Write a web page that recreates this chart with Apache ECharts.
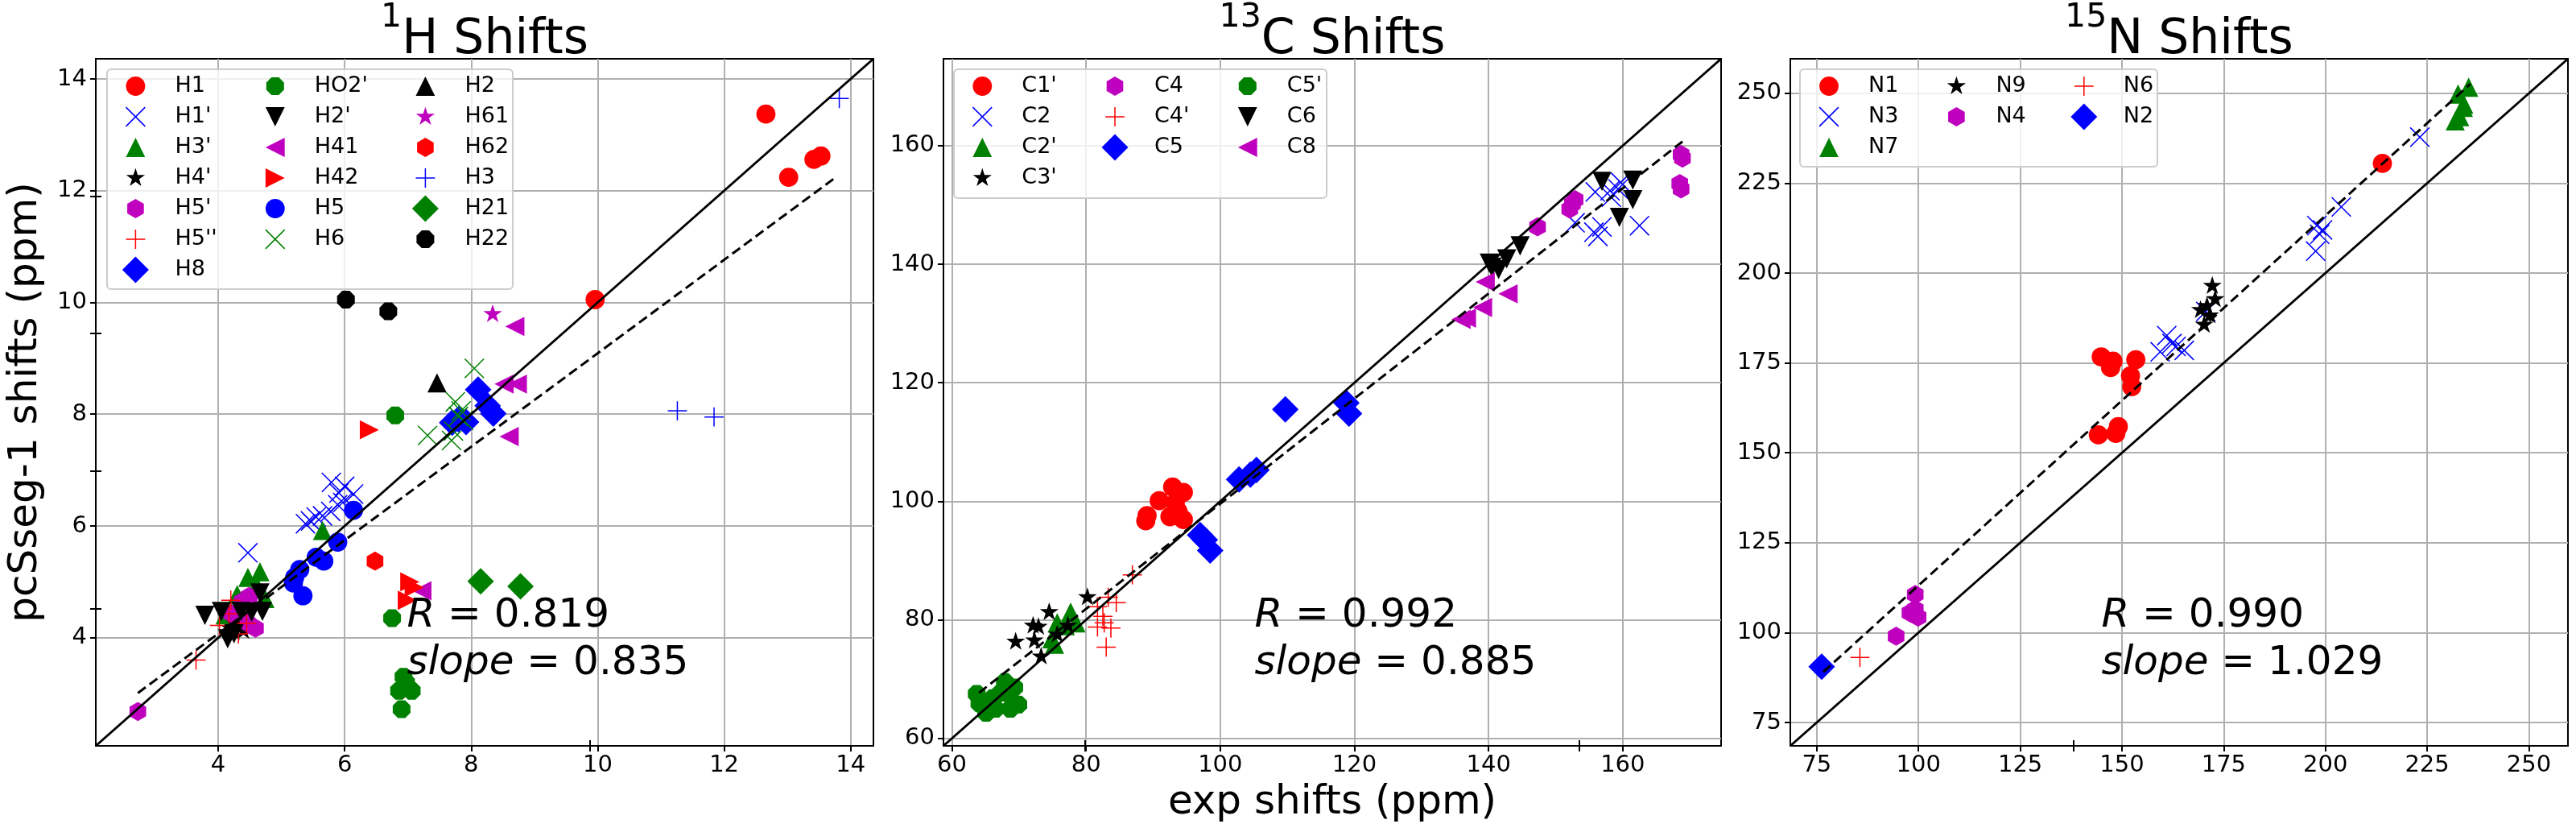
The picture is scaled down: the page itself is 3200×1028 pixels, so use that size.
<!DOCTYPE html>
<html><head><meta charset="utf-8">
<script src="https://cdn.jsdelivr.net/npm/echarts@6/dist/echarts.min.js"></script>
<style>html,body{margin:0;padding:0;background:#fff}#c{width:3200px;height:1028px}</style>
</head><body><div id="c"></div>
<script>
// ---------------- DATA ----------------
// 1H panel: [exp, pcSseg-1]
const H1   = [[12.66,13.37],[13.02,12.24],[13.42,12.56],[13.53,12.62],[9.96,10.05]];
const H1p  = [[5.79,6.78],[6.00,6.71],[6.14,6.57],[5.91,6.59],[5.38,6.04],[5.46,6.09],[5.55,6.16],[5.65,6.18],[5.78,6.26],[5.89,6.38],[5.97,6.42],[4.47,5.52]];
const H3p  = [[5.65,5.92],[4.47,5.08],[4.66,5.18],[4.30,4.77],[4.61,4.94],[4.11,4.41],[4.74,4.70]];
const H4p  = [[4.19,4.17],[4.32,4.19],[4.40,4.12],[4.25,4.10],[4.28,4.25]];
const H5p  = [[2.73,2.68],[4.21,4.43],[4.47,4.26],[4.59,4.17],[4.49,4.74],[4.38,4.65]];
const H5pp = [[3.65,3.60],[4.17,4.43],[4.02,4.22],[4.45,4.26],[4.32,4.07],[4.20,4.67]];
const H8   = [[8.11,8.44],[8.35,8.01],[7.80,7.91],[7.92,7.86],[8.26,8.15],[7.70,7.85]];
const HO2p = [[6.80,7.98],[6.75,4.35],[6.93,3.30],[6.86,3.05],[7.06,3.05],[6.90,2.72],[6.97,3.20]];
const H2p  = [[3.79,4.40],[4.05,4.47],[4.15,3.98],[4.36,4.47],[4.66,4.80],[4.70,4.47],[4.53,4.46],[4.25,4.07]];
const H41  = [[8.69,9.57],[8.73,8.54],[8.52,8.54],[8.60,7.60],[7.22,4.84]];
const H42  = [[6.39,7.72],[7.03,5.00],[7.10,4.90],[6.99,4.67]];
const H5   = [[6.14,6.28],[5.89,5.71],[5.67,5.37],[5.55,5.44],[5.29,5.22],[5.21,5.08],[5.19,4.98],[5.34,4.75]];
const H6   = [[8.05,8.82],[7.75,8.22],[7.84,8.06],[7.31,7.62],[7.69,7.53],[7.80,7.96],[7.88,7.89],[7.72,7.70]];
const H2   = [[7.46,8.56]];
const H61  = [[8.34,9.79]];
const H62  = [[6.48,5.37]];
const H3   = [[13.82,13.65],[11.26,8.06],[11.84,7.95]];
const H21  = [[8.15,5.01],[8.78,4.92]];
const H22  = [[6.02,10.05],[6.69,9.84]];

// 13C panel
const C1p = [[92.9,102.4],[94.5,101.5],[90.9,100.1],[93.3,99.7],[93.7,98.3],[89.1,97.6],[88.9,96.7],[94.5,96.9],[92.5,97.4]];
const C2  = [[155.9,152.2],[158.3,151.3],[159.3,152.7],[155.7,145.4],[156.9,146.3],[156.3,144.7],[162.5,146.5],[152.9,147.0],[158.1,152.4],[159.7,153.8]];
const C2p = [[77.7,81.3],[75.7,79.5],[74.9,76.8],[76.9,79.0],[75.3,75.9],[78.5,79.5]];
const C3p = [[80.2,83.8],[74.5,81.3],[72.1,79.0],[72.9,78.8],[69.5,76.3],[72.3,76.5],[73.3,73.8],[77.3,79.0],[75.7,77.5]];
const C4  = [[168.7,158.5],[168.5,153.6],[168.7,152.7],[168.9,157.9],[152.5,150.2],[152.9,150.9],[152.1,149.3],[147.3,146.3]];
const C4p = [[86.9,87.6],[83.3,83.8],[84.5,82.9],[81.7,82.2],[82.5,80.6],[82.7,79.5],[81.7,78.8],[83.7,78.6],[83.0,75.4]];
const C5  = [[97.7,93.5],[98.5,91.7],[97.0,94.3],[102.8,103.7],[105.4,105.3],[104.5,104.5],[109.7,115.5],[118.8,116.6],[119.2,114.8]];
const C5p = [[64.1,65.9],[65.1,64.3],[66.5,65.0],[67.9,69.5],[68.3,67.7],[69.3,68.6],[69.9,65.7],[63.7,67.5],[66.1,66.8],[67.3,67.7],[68.7,65.0]];
const C6  = [[156.9,154.0],[161.5,154.2],[161.5,150.9],[159.5,147.9],[144.7,143.1],[142.7,140.9],[140.5,139.5],[141.5,139.1],[140.1,140.2]];
const C8  = [[139.5,137.0],[142.9,135.0],[139.1,132.7],[136.7,130.9],[135.9,130.7]];

// 15N panel
const N1 = [[144.9,176.7],[147.8,175.5],[147.2,173.7],[153.4,175.9],[152.1,171.4],[152.4,168.4],[144.2,155.0],[148.5,155.4],[149.1,157.3],[214.0,230.5]];
const N3 = [[161.0,182.6],[163.3,179.6],[159.4,178.1],[165.3,178.5],[162.3,180.4],[170.6,189.3],[223.2,237.8],[203.9,218.4],[197.9,213.2],[198.6,210.8],[197.6,206.1],[199.3,212.0]];
const N7 = [[235.2,251.7],[232.6,249.8],[233.9,246.1],[231.9,242.3],[233.0,243.5],[234.0,247.0]];
const N9 = [[172.2,196.4],[172.9,192.7],[169.3,189.7],[170.9,190.8],[171.6,188.2],[170.2,185.6]];
const N4 = [[99.2,110.6],[99.2,106.5],[99.9,104.3],[94.5,99.0],[97.9,105.5]];
const N6 = [[85.6,93.1]];
const N2 = [[76.2,90.5]];

// axis limits, ticks, regression lines, stats
const hLim = [2.065, 14.36];
const cLim = [58.74, 174.66];
const nLim = [68.5, 259.6];
const hTicks = [4, 6, 8, 10, 12, 14];
const cTicks = [60, 80, 100, 120, 140, 160];
const nTicks = [75, 100, 125, 150, 175, 200, 225, 250];
const frameTicks = [0.2, 0.4, 0.6, 0.8];   // ticks of the shared background axes
const hFit = [[2.73, 3.01], [13.73, 12.21]];
const cFit = [[64.05, 67.7], [168.9, 160.7]];
const nFit = [[76.6, 89.05], [235.6, 252.6]];
const titles = [['1', 'H Shifts'], ['13', 'C Shifts'], ['15', 'N Shifts']];
const statR = ['0.819', '0.992', '0.990'];
const statSlope = ['0.835', '0.885', '1.029'];

// ---------------- STYLE ----------------
const FONT = 'DejaVu Sans';
const RED = '#ff0000', BLUE = '#0000ff', GREEN = '#008000', BLACK = '#000000', MAG = '#bf00bf';
const PAD = 'path://M0 0M100 100';
function poly(pts) { return pts.map((p, i) => (i ? 'L' : 'M') + p[0].toFixed(2) + ' ' + p[1].toFixed(2)).join('') + 'Z'; }
function regular(n, R, startDeg) {
  const pts = [];
  for (let k = 0; k < n; k++) { const a = (startDeg + 360 * k / n) * Math.PI / 180; pts.push([50 + R * Math.cos(a), 50 + R * Math.sin(a)]); }
  return poly(pts);
}
function star(R, r) {
  const pts = [];
  for (let k = 0; k < 10; k++) { const a = (-90 + 36 * k) * Math.PI / 180; const rr = k % 2 ? r : R; pts.push([50 + rr * Math.cos(a), 50 + rr * Math.sin(a)]); }
  return poly(pts);
}
const d = 1.6;
const SYM = {
  'o': PAD + 'M85 50A35 35 0 1 1 15 50A35 35 0 1 1 85 50Z',
  '^': PAD + 'M50 15L85 85L15 85Z',
  'v': PAD + 'M15 15L85 15L50 85Z',
  '<': PAD + 'M15 50L85 15L85 85Z',
  '>': PAD + 'M85 50L15 15L15 85Z',
  'D': PAD + 'M50 1.5L98.5 50L50 98.5L1.5 50Z',
  'h': PAD + regular(6, 35, -90),
  '8': PAD + regular(8, 35, 22.5),
  '*': PAD + star(36, 13.8),
  '+': PAD + 'M47.8 15L52.2 15L52.2 47.8L85 47.8L85 52.2L52.2 52.2L52.2 85L47.8 85L47.8 52.2L15 52.2L15 47.8L47.8 47.8Z',
  'x': PAD + poly([[15 + d, 15 - d], [85 + d, 85 - d], [85 - d, 85 + d], [15 - d, 15 + d]]) +
       poly([[85 + d, 15 + d], [15 + d, 85 + d], [15 - d, 85 - d], [85 - d, 15 - d]])
};

const SPEC = [
  [
    ['H1', H1, 'o', RED], ["H1'", H1p, 'x', BLUE], ["H3'", H3p, '^', GREEN], ["H4'", H4p, '*', BLACK],
    ["H5'", H5p, 'h', MAG], ["H5''", H5pp, '+', RED], ['H8', H8, 'D', BLUE], ["HO2'", HO2p, '8', GREEN],
    ["H2'", H2p, 'v', BLACK], ['H41', H41, '<', MAG], ['H42', H42, '>', RED], ['H5', H5, 'o', BLUE],
    ['H6', H6, 'x', GREEN], ['H2', H2, '^', BLACK], ['H61', H61, '*', MAG], ['H62', H62, 'h', RED],
    ['H3', H3, '+', BLUE], ['H21', H21, 'D', GREEN], ['H22', H22, '8', BLACK]
  ],
  [
    ["C1'", C1p, 'o', RED], ['C2', C2, 'x', BLUE], ["C2'", C2p, '^', GREEN], ["C3'", C3p, '*', BLACK],
    ['C4', C4, 'h', MAG], ["C4'", C4p, '+', RED], ['C5', C5, 'D', BLUE], ["C5'", C5p, '8', GREEN],
    ['C6', C6, 'v', BLACK], ['C8', C8, '<', MAG]
  ],
  [
    ['N1', N1, 'o', RED], ['N3', N3, 'x', BLUE], ['N7', N7, '^', GREEN], ['N9', N9, '*', BLACK],
    ['N4', N4, 'h', MAG], ['N6', N6, '+', RED], ['N2', N2, 'D', BLUE]
  ]
];
const LIMS = [hLim, cLim, nLim];
const TICKS = [hTicks, cTicks, nTicks];
const FITS = [hFit, cFit, nFit];
const COLCOUNTS = [[7, 6, 6], [4, 3, 3], [3, 2, 2]];
const COLCENTERS = [[168.4, 341.8, 528.4], [1220.3, 1385, 1549.8], [2272, 2430.4, 2588.8]];
const LEGBOX = [[133, 86, 504, 273], [1185, 86, 463, 160], [2236, 86, 444, 121]];

const GL = [119, 1172, 2224], GT = 73, GW = 966, GH = 853;

const grids = [], xAxes = [], yAxes = [], series = [], legends = [], graphics = [];
for (let p = 0; p < 3; p++) {
  grids.push({ left: GL[p], top: GT, width: GW, height: GH, show: true, borderColor: '#000', borderWidth: 2, backgroundColor: 'transparent', z: 0 });
  const axisCommon = (ticks) => ({
    type: 'value', gridIndex: p, min: LIMS[p][0], max: LIMS[p][1],
    axisLine: { show: true, onZero: false, lineStyle: { color: '#000', width: 2 } },
    axisTick: { show: true, inside: false, length: 7, lineStyle: { color: '#000', width: 2 }, customValues: ticks },
    axisLabel: { show: true, customValues: ticks, fontSize: 29, fontFamily: FONT, color: '#000', margin: 10 },
    splitLine: { show: true, lineStyle: { color: '#b0b0b0', width: 2 } }
  });
  const xa = axisCommon(TICKS[p]);
  if (p === 1) {
    Object.assign(xa, { name: 'exp shifts (ppm)', nameLocation: 'middle', nameGap: 46, nameTextStyle: { fontSize: 50, fontFamily: FONT, color: '#000' } });
  }
  const ya = axisCommon(TICKS[p]);
  ya.axisLabel.margin = 11;
  if (p === 0) {
    Object.assign(ya, { name: 'pcSseg-1 shifts (ppm)', nameLocation: 'middle', nameGap: 62, nameTextStyle: { fontSize: 50, fontFamily: FONT, color: '#000' } });
  }
  xAxes.push(xa); yAxes.push(ya);

  SPEC[p].forEach(([name, data, sym, color]) => {
    series.push({
      type: 'scatter', name, xAxisIndex: p, yAxisIndex: p, data,
      symbol: SYM[sym], symbolSize: 34,
      itemStyle: { color, opacity: 1, borderWidth: 0 },
      emphasis: { disabled: true }, z: 2
    });
  });
  series.push({
    type: 'line', xAxisIndex: p, yAxisIndex: p, data: [[LIMS[p][0], LIMS[p][0]], [LIMS[p][1], LIMS[p][1]]],
    symbol: 'none', lineStyle: { color: '#000', width: 3 }, silent: true, z: 5
  });
  series.push({
    type: 'line', xAxisIndex: p, yAxisIndex: p, data: FITS[p],
    symbol: 'none', lineStyle: { color: '#000', width: 3, type: [12, 6] }, silent: true, z: 5
  });

  // legend columns
  let idx = 0;
  COLCOUNTS[p].forEach((cnt, ci) => {
    const items = SPEC[p].slice(idx, idx + cnt).map(s => ({ name: s[0], icon: SYM[s[2]] }));
    idx += cnt;
    legends.push({
      data: items, orient: 'vertical', left: COLCENTERS[p][ci] - 17, top: 90, padding: 0,
      itemWidth: 88, itemHeight: 34, itemGap: 4, symbolKeepAspect: true, selectedMode: false,
      textStyle: { fontSize: 27, fontFamily: FONT, color: '#000', lineHeight: 27 }, z: 6
    });
  });
  const b = LEGBOX[p];
  graphics.push({ type: 'rect', z: 5, shape: { x: b[0], y: b[1], width: b[2], height: b[3], r: 5 },
    style: { fill: 'rgba(255,255,255,0.8)', stroke: '#cccccc', lineWidth: 2 } });

  // title
  graphics.push({ type: 'text', z: 5, x: GL[p] + GW / 2, y: 2,
    style: { text: '{s|' + titles[p][0] + '}{m|' + titles[p][1] + '}', textAlign: 'center', textVerticalAlign: 'top',
      rich: { s: { fontSize: 41, fontFamily: FONT, fill: '#000', lineHeight: 41, verticalAlign: 'top' },
              m: { fontSize: 60, fontFamily: FONT, fill: '#000', lineHeight: 78, verticalAlign: 'bottom' } } } });
  // stats text
  const tx = GL[p] + 0.4 * GW;
  graphics.push({ type: 'text', z: 5, x: tx, y: 780 - 0.297 * 50,
    style: { text: '{i|R} = ' + statR[p], fontSize: 50, fontFamily: FONT, fill: '#000', textVerticalAlign: 'middle',
      rich: { i: { fontSize: 50, fontFamily: FONT, fontStyle: 'italic', fill: '#000' } } } });
  graphics.push({ type: 'text', z: 5, x: tx, y: 839 - 0.297 * 50,
    style: { text: '{i|slope} = ' + statSlope[p], fontSize: 50, fontFamily: FONT, fill: '#000', textVerticalAlign: 'middle',
      rich: { i: { fontSize: 50, fontFamily: FONT, fontStyle: 'italic', fill: '#000' } } } });
}

// shared background axes spanning all three panels (only its ticks are visible)
grids.push({ left: GL[0], top: GT, width: GL[2] + GW - GL[0], height: GH, show: false });
const frameAxis = (position) => ({
  type: 'value', gridIndex: 3, position, min: 0, max: 1,
  axisLine: { show: false }, axisLabel: { show: false }, splitLine: { show: false },
  axisTick: { show: true, length: 7, lineStyle: { color: '#000', width: 2 }, customValues: frameTicks }
});
xAxes.push(frameAxis('bottom'), frameAxis('top'));
yAxes.push(frameAxis('left'), frameAxis('right'));

const chart = echarts.init(document.getElementById('c'), null, { renderer: 'canvas' });
chart.setOption({
  animation: false,
  backgroundColor: '#ffffff',
  grid: grids, xAxis: xAxes, yAxis: yAxes, series, legend: legends,
  graphic: { elements: graphics }
});
</script></body></html>
